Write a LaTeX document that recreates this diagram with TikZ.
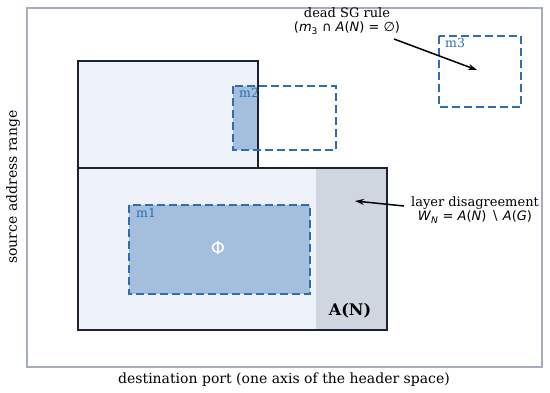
\documentclass[tikz,border=0pt]{standalone}
\usepackage{fontspec}
\setmainfont{DejaVu Serif}
\newfontfamily\mathsans{DejaVu Sans}
\usetikzlibrary{arrows.meta}
\definecolor{frame}{HTML}{A6AEBB}
\definecolor{dark}{HTML}{1C2230}
\definecolor{lightfill}{HTML}{EEF2F9}
\definecolor{grayfill}{HTML}{CFD6E0}
\definecolor{ruleblue}{HTML}{2F6DB0}
\definecolor{rulefill}{HTML}{A3BFDD}
\tikzset{
  region/.style={draw=dark, line width=2.4pt, fill=lightfill},
  rulebox/.style={draw=ruleblue, line width=2.4pt, dash pattern=on 8pt off 4pt},
  rulelabel/.style={text=ruleblue, anchor=north west, inner sep=0pt, font=\fontsize{12.5}{14}\selectfont},
  note/.style={align=center, inner sep=0pt, font=\fontsize{13}{15}\selectfont},
  pointer/.style={-{Stealth[length=9pt,width=6pt]}, line width=1.5pt, draw=black},
  axislabel/.style={inner sep=0pt, font=\fontsize{14}{16}\selectfont}
}
\begin{document}
\begin{tikzpicture}[x=1pt,y=-1pt]
\useasboundingbox (0,0) rectangle (550,392);
% axes frame
\draw[frame, line width=1.2pt] (27,8) rectangle (542,367);
% A(G) region (upper) and A(N) region (lower)
\draw[region] (78,61) rectangle (258,168);
\fill[lightfill] (78,168) rectangle (387,330);
\fill[grayfill] (316,168) rectangle (387,330);
\draw[dark, line width=2.4pt] (78,168) rectangle (387,330);
% m1
\fill[rulefill] (129,205) rectangle (310,294);
\draw[rulebox] (129,205) rectangle (310,294);
\node[rulelabel] (m1) at (136,208) {m1};
\node[text=white, font=\mathsans\fontsize{18}{18}\selectfont] (phi) at (218,248) {Φ};
% m2
\fill[rulefill] (233,86) rectangle (258,150);
\draw[dark, line width=2.4pt] (258,61) -- (258,168);
\draw[rulebox] (233,86) rectangle (336,150);
\node[rulelabel] (m2) at (239,88) {m2};
% m3
\draw[rulebox] (439,36) rectangle (521,107);
\node[rulelabel] (m3) at (445,38) {m3};
% A(N) label
\node[font=\bfseries\fontsize{16}{18}\selectfont] (an) at (350,311) {A(N)};
% dead SG rule note
\node[note] (dead) at (347,13) {dead SG rule};
\node[note, font=\mathsans\fontsize{13}{15}\selectfont] (deadm) at (347,28) {(\textit{m}\textsubscript{3} ∩ \textit{A}(\textit{N}) = ∅)};
\coordinate (d1) at (394,39);
\coordinate (d2) at (477,70);
\draw[pointer] (d1) -- (d2);
% layer disagreement note
\node[note] (lay) at (475,203) {layer disagreement};
\node[note, font=\mathsans\fontsize{13}{15}\selectfont] (laym) at (475,217) {\textit{W}\textsubscript{\textit{N}} = \textit{A}(\textit{N}) ∖ \textit{A}(\textit{G})};
\coordinate (l1) at (404,206);
\coordinate (l2) at (355,201);
\draw[pointer] (l1) -- (l2);
% axis labels
\node[axislabel] (xl) at (284,380) {destination port (one axis of the header space)};
\node[axislabel, rotate=90] (yl) at (13,187) {source address range};
\end{tikzpicture}
\end{document}
